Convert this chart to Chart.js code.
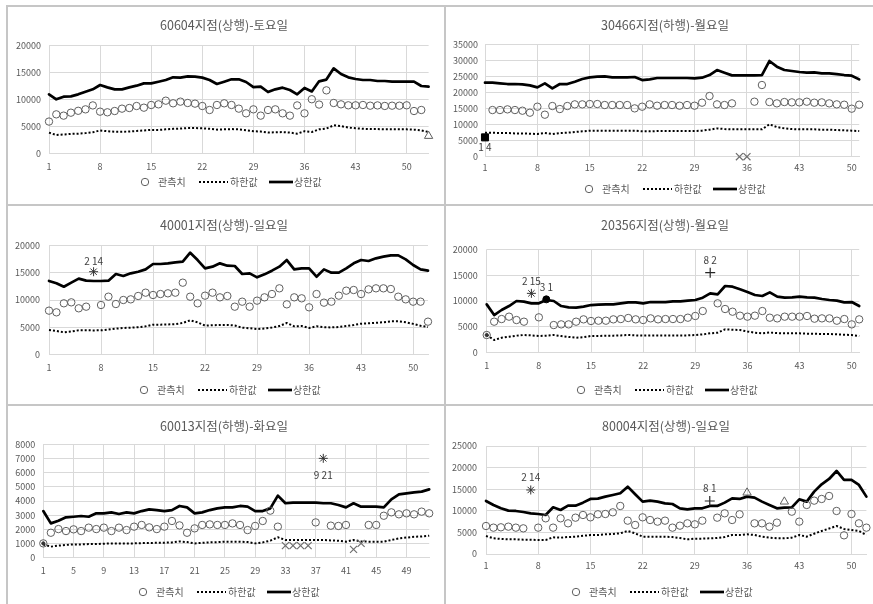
<!DOCTYPE html>
<html>
<head>
<meta charset="utf-8">
<script src="https://cdn.jsdelivr.net/npm/chart.js@4.4.1/dist/chart.umd.min.js"></script>
<style>
  html, body { margin: 0; padding: 0; background: #fff; }
  #board { position: relative; width: 873px; height: 604px; overflow: hidden; background: #fff; }
  .rule { position: absolute; background: #c6c6c6; }
  .cell { position: absolute; }
  .cell canvas { display: block; }
</style>
</head>
<body>
<div id="board"></div>
<script>
// ---- series names ----
const seriesNames = ['관측치', '하한값', '상한값'];

// ---- 60604지점(상행)-토요일 ----
const obs1 = [5900, 7240, 7000, 7550, 7900, 8170, 8900, 7740, 7620, 7860,
  8300, 8420, 8790, 8480, 8980, 9100, 9780, 9290, 9600, 9350,
  9230, 8790, 8050, 8980, 9290, 8980, 8300, 7430, 8170, 7000,
  8050, 8170, 7430, 7000, 8900, 7430, 10050, 9060, 11700, 9350,
  9100, 8920, 8920, 8980, 8850, 8900, 8800, 8850, 8850, 8920,
  7860, 8050, null];
const lower1 = [3840, 3400, 3500, 3600, 3650, 3750, 3900, 4250, 4100, 4000,
  4000, 4050, 4150, 4250, 4350, 4350, 4450, 4550, 4600, 4700,
  4700, 4650, 4550, 4400, 4450, 4500, 4450, 4300, 4100, 4050,
  3850, 3900, 3950, 3850, 3650, 4100, 3950, 4450, 4600, 5200,
  5050, 4800, 4650, 4550, 4500, 4500, 4450, 4450, 4450, 4450,
  4400, 4250, 3950];
const upper1 = [10960, 10030, 10530, 10590, 10960, 11450, 11890, 12690, 12260, 11890,
  11890, 12260, 12570, 13000, 13000, 13310, 13620, 14120, 14060, 14300,
  14240, 14060, 13620, 12880, 13310, 13750, 13750, 13250, 12300, 12380,
  11390, 11890, 12200, 11770, 10960, 12150, 11500, 13380, 13700, 15790,
  14740, 14120, 13810, 13620, 13620, 13440, 13440, 13310, 13310, 13310,
  13310, 12510, 12380];
const flags1 = [
  { kind: 'triangle', week: 53, value: 3220 }
];

// ---- 30466지점(하행)-월요일 ----
const obs2 = [null, 14530, 14530, 14740, 14530, 14320, 13700, 15570, 13080, 15780,
  14840, 15780, 16300, 16300, 16400, 16400, 16090, 16090, 16090, 16090,
  15050, 15570, 16300, 15880, 16090, 16090, 15880, 16090, 15880, 16820,
  18890, 16300, 16090, 16610, null, null, 17130, 22320, 17020, 16610,
  17020, 16920, 16920, 17130, 16820, 16920, 16610, 16300, 16190, 14950,
  16190];
const lower2 = [7470, 7470, 7370, 7370, 7260, 7260, 7160, 7050, 7370, 7050,
  7370, 7470, 7680, 7890, 8100, 8100, 8100, 8100, 8100, 8100,
  8100, 7890, 7890, 8000, 8000, 8000, 8000, 8000, 7990, 8100,
  8400, 8820, 8610, 8510, 8510, 8510, 8510, 8510, 10070, 9240,
  8820, 8610, 8510, 8510, 8510, 8410, 8410, 8300, 8200, 8100,
  8000];
const upper2 = [23040, 23040, 22840, 22630, 22630, 22530, 22210, 21590, 22840, 21280,
  22630, 22630, 23360, 24190, 24700, 24910, 25020, 24700, 24700, 24700,
  24810, 23870, 24080, 24500, 24500, 24500, 24500, 24500, 24390, 24600,
  25430, 26990, 26160, 25330, 25330, 25330, 25330, 25430, 29790, 28030,
  26990, 26680, 26370, 26160, 26260, 25950, 25950, 25740, 25430, 25220,
  24080];
const flags2 = [
  { kind: 'square', week: 1, value: 6020, note: '1 4' },
  { kind: 'cross', week: 35, value: 0 },
  { kind: 'cross', week: 36, value: 0 }
];

// ---- 40001지점(상행)-일요일 ----
const obs3 = [8040, 7730, 9390, 9570, 8470, 8770, null, 9080, 10610, 9260,
  10000, 10120, 10740, 11350, 10920, 11100, 11230, 11350, 13190, 10610,
  9390, 10800, 11350, 10490, 10740, 8770, 9690, 8770, 9880, 10490,
  11100, 12150, 9200, 10490, 10310, 8650, 11100, 9510, 9690, 10800,
  11720, 11840, 11100, 11960, 12150, 12150, 12020, 10610, 10120, 9690,
  9690, 6010];
const lower3 = [4480, 4290, 4050, 4200, 4420, 4420, 4400, 4420, 4550, 4720,
  4850, 4900, 5000, 5150, 5460, 5460, 5500, 5550, 5770, 6260,
  5890, 5280, 5350, 5400, 5400, 5300, 4900, 4800, 4660, 4750,
  4950, 5200, 5770, 5150, 5200, 4850, 5150, 5000, 4950, 5030,
  5200, 5400, 5640, 5700, 5800, 5900, 6070, 6070, 5900, 5600,
  5250, 5030];
const upper3 = [13500, 13070, 12450, 13190, 13930, 13560, 13500, 13500, 13560, 14790,
  14420, 14910, 15210, 15640, 16630, 16630, 16750, 16930, 17060, 18710,
  17360, 15830, 16140, 16750, 16320, 16260, 14790, 14910, 14170, 14720,
  15400, 16140, 17360, 15640, 15830, 15830, 14290, 15640, 15030, 15030,
  15830, 16750, 17360, 17180, 17670, 17980, 18220, 18220, 17480, 16440,
  15640, 15400];
const flags3 = [
  { kind: 'star', week: 7, value: 15210, note: '2 14' }
];

// ---- 20356지점(상행)-월요일 ----
const obs4 = [3420, 6000, 6510, 6970, 6320, 6000, null, 6840, null, 5350,
  5480, 5480, 6000, 6450, 6130, 6190, 6190, 6450, 6510, 6710,
  6450, 6320, 6640, 6450, 6510, 6510, 6510, 6770, 7100, 8060,
  null, 9550, 8450, 7930, 7160, 6970, 7160, 8060, 6770, 6640,
  6970, 6970, 6970, 7100, 6580, 6640, 6640, 6190, 6510, 5480,
  6450];
const lower4 = [3420, 2450, 2900, 3100, 3300, 3420, 3350, 3230, 3300, 3420,
  3230, 3050, 2900, 3000, 3230, 3230, 3300, 3300, 3350, 3420,
  3350, 3300, 3350, 3350, 3350, 3350, 3350, 3350, 3420, 3550,
  3750, 3870, 4520, 4450, 4390, 4100, 3870, 3740, 3900, 3800,
  3740, 3740, 3740, 3680, 3680, 3610, 3610, 3550, 3480, 3420,
  3230];
const upper4 = [9350, 7290, 8260, 9030, 10000, 9870, 9550, 9550, 10190, 10000,
  9030, 8770, 8710, 8900, 9220, 9290, 9350, 9350, 9550, 9740,
  9740, 9550, 9800, 9800, 9800, 9930, 9930, 10060, 10190, 10640,
  11480, 11290, 12900, 12770, 12260, 11740, 11160, 10970, 11670, 10840,
  10640, 10710, 10840, 10710, 10640, 10380, 10190, 10060, 9740, 9800,
  9030];
const flags4 = [
  { kind: 'dot', week: 1, value: 3420 },
  { kind: 'star', week: 7, value: 11480, note: '2 15' },
  { kind: 'filled', week: 9, value: 10320, note: '3 1' },
  { kind: 'plus', week: 31, value: 15480, note: '8 2' }
];

// ---- 60013지점(하행)-화요일 ----
const obs5 = [1010, 1760, 2020, 1880, 2000, 1880, 2120, 2020, 2120, 1880,
  2120, 1950, 2190, 2310, 2140, 2020, 2190, 2590, 2280, 1760,
  2070, 2310, 2350, 2310, 2310, 2420, 2310, 1950, 2240, 2590,
  3320, 2190, null, null, null, null, 2490, null, 2260, 2240,
  2310, null, null, 2310, 2310, 2960, 3200, 3060, 3130, 3060,
  3250, 3130];
const lower5 = [940, 780, 850, 900, 940, 940, 960, 960, 990, 1010,
  1010, 1010, 1010, 1030, 1040, 1050, 1060, 1080, 1150, 1100,
  1010, 1050, 1080, 1100, 1130, 1130, 1130, 1100, 1010, 1080,
  1200, 1440, 1250, 1250, 1250, 1250, 1250, 1250, 1220, 1200,
  1130, 1250, 1150, 1130, 1130, 1130, 1250, 1360, 1420, 1480,
  1500, 1550];
const upper5 = [3290, 2420, 2610, 2850, 2890, 2940, 2890, 3130, 3130, 3200,
  3080, 3200, 3130, 3290, 3410, 3360, 3290, 3360, 3650, 3550,
  3130, 3200, 3360, 3480, 3550, 3550, 3650, 3600, 3290, 3290,
  3480, 4380, 3840, 3880, 3880, 3880, 3880, 3840, 3840, 3720,
  3550, 3840, 3600, 3600, 3600, 3550, 4120, 4470, 4540, 4610,
  4660, 4820];
const flags5 = [
  { kind: 'dot', week: 1, value: 1010 },
  { kind: 'cross', week: 33, value: 850 },
  { kind: 'cross', week: 34, value: 850 },
  { kind: 'cross', week: 35, value: 850 },
  { kind: 'cross', week: 36, value: 850 },
  { kind: 'star', week: 38, value: 7010, note: '9 21' },
  { kind: 'cross', week: 42, value: 590 },
  { kind: 'cross', week: 43, value: 1010 }
];

// ---- 80004지점(상행)-일요일 ----
const obs6 = [6480, 6100, 6180, 6330, 6100, 5940, null, 6100, 8260, 6100,
  8260, 7100, 8410, 9030, 8490, 9190, 9260, 9650, 11120, 7720,
  6720, 8490, 7870, 7490, 7720, 6100, 6560, 7100, 6870, 7720,
  null, 8410, 9420, 7870, 9190, null, 7100, 7100, 6330, 7260,
  null, 9800, 7490, 11350, 12350, 12740, 13430, 9960, 4320, 9260,
  7100, 6100];
const lower6 = [4170, 3630, 3500, 3400, 3400, 3320, 3300, 3240, 3240, 3860,
  3780, 3930, 4010, 4200, 4400, 4400, 4550, 4650, 4790, 5330,
  4790, 4010, 4010, 4010, 4010, 3930, 3700, 3400, 3550, 3550,
  3630, 3700, 3930, 4400, 4400, 4550, 4400, 4010, 3780, 3630,
  3630, 3780, 4400, 4010, 4700, 5330, 5900, 6480, 5800, 5560,
  5330, 4400];
const upper6 = [12270, 11350, 10580, 10040, 9960, 9730, 9420, 9260, 9030, 10810,
  10190, 11190, 11190, 11890, 12740, 12820, 13280, 13660, 14050, 15590,
  13820, 12120, 12350, 12120, 11730, 11580, 10580, 10340, 10580, 10580,
  11120, 11120, 11890, 12890, 12740, 13280, 13050, 12120, 11350, 10580,
  10730, 10810, 12660, 12120, 14440, 16130, 17370, 19220, 17140, 17140,
  15980, 13280];
const flags6 = [
  { kind: 'star', week: 7, value: 14820, note: '2 14' },
  { kind: 'plus', week: 31, value: 12270, note: '8 1' },
  { kind: 'triangle', week: 36, value: 14200 },
  { kind: 'triangle', week: 41, value: 12120 }
];

// ---- y-axis ranges ----
const yMax = [20000, 35000, 20000, 20000, 8000, 25000];
const yStep = [5000, 5000, 5000, 5000, 1000, 5000];
const labelEvery = [7, 7, 7, 7, 4, 7];
const titles = ['60604지점(상행)-토요일', '30466지점(하행)-월요일', '40001지점(상행)-일요일',
  '20356지점(상행)-월요일', '60013지점(하행)-화요일', '80004지점(상행)-일요일'];

// ---- page layout (absolute px) ----
const layout = [
  { cell: [0, 7, 444, 197],   area: { l: 49,    r: 428.6, t: 45.7,  b: 153.3 }, tx: 224, ty: 25,  xl: 167, lx: 145, ly: 182, yp: 8, nd: 0 },
  { cell: [446, 7, 427, 197], area: { l: 485,   r: 859.2, t: 44.3,  b: 156.7 }, tx: 665, ty: 25,  xl: 168, lx: 589, ly: 189, yp: 7, nd: 10 },
  { cell: [0, 206, 444, 198], area: { l: 49,    r: 428,   t: 245.7, b: 354.3 }, tx: 224, ty: 225, xl: 368, lx: 144, ly: 390, yp: 9, nd: -11 },
  { cell: [446, 206, 427, 198], area: { l: 486.7, r: 859.2, t: 249.3, b: 352.7 }, tx: 665, ty: 225, xl: 366, lx: 581, ly: 390, yp: 9, nd: -12 },
  { cell: [0, 406, 444, 198], area: { l: 43.3,  r: 429.2, t: 444.3, b: 557.7 }, tx: 224, ty: 426, xl: 571, lx: 143, ly: 592, yp: 8, nd: 17 },
  { cell: [446, 406, 427, 198], area: { l: 486,   r: 866.8, t: 446,   b: 554 },   tx: 666, ty: 426, xl: 566, lx: 576, ly: 592, yp: 9, nd: -13 }
];

const seriesSets = [
  [obs1, lower1, upper1, flags1],
  [obs2, lower2, upper2, flags2],
  [obs3, lower3, upper3, flags3],
  [obs4, lower4, upper4, flags4],
  [obs5, lower5, upper5, flags5],
  [obs6, lower6, upper6, flags6]
];

const FONT = '"Noto Sans CJK KR", "Noto Sans", sans-serif';
const TEXT = '#595959';
const GRID = '#d9d9d9';
const RING = '#5f5f5f';
const AXIS_H = 24;

const FLAG_STYLE = {
  triangle: { pointStyle: 'triangle', pointRadius: 4.8, pointBorderColor: RING, pointBackgroundColor: 'rgba(255,255,255,0)', pointBorderWidth: 1 },
  square:   { pointStyle: 'rect', pointRadius: 5, pointBorderColor: '#000', pointBackgroundColor: '#000', pointBorderWidth: 1 },
  cross:    { pointStyle: 'crossRot', pointRadius: 5, pointBorderColor: '#6f6f6f', pointBorderWidth: 1.2 },
  star:     { pointStyle: 'star', pointRadius: 4.5, pointBorderColor: '#333', pointBorderWidth: 1 },
  plus:     { pointStyle: 'cross', pointRadius: 5, pointBorderColor: '#262626', pointBorderWidth: 1.2 },
  filled:   { pointStyle: 'circle', pointRadius: 3.5, pointBorderColor: '#000', pointBackgroundColor: '#000', pointBorderWidth: 1 },
  dot:      { pointStyle: 'circle', pointRadius: 1.6, pointBorderColor: '#333', pointBackgroundColor: '#333', pointBorderWidth: 1 }
};

// Title, legend row and flag notes for one panel
const panelText = {
  id: 'panelText',
  afterDatasetsDraw(chart, args, opts) {
    const { ctx } = chart;
    const L = opts.layout;
    const ox = L.cell[0], oy = L.cell[1];
    ctx.save();
    ctx.fillStyle = TEXT;
    ctx.font = '12.5px ' + FONT;
    ctx.textAlign = 'center';
    ctx.textBaseline = 'middle';
    ctx.fillText(opts.title, L.tx - ox, L.ty - oy);

    const lx = L.lx - ox, ly = L.ly - oy;
    ctx.strokeStyle = RING;
    ctx.lineWidth = 1;
    ctx.beginPath();
    ctx.arc(lx, ly, 3.7, 0, Math.PI * 2);
    ctx.stroke();
    ctx.font = '10px ' + FONT;
    ctx.textAlign = 'left';
    ctx.fillText(seriesNames[0], lx + 13, ly);
    ctx.strokeStyle = '#000';
    ctx.lineWidth = 2;
    ctx.setLineDash([2, 2]);
    ctx.beginPath();
    ctx.moveTo(lx + 54, ly);
    ctx.lineTo(lx + 83, ly);
    ctx.stroke();
    ctx.setLineDash([]);
    ctx.fillText(seriesNames[1], lx + 85, ly);
    ctx.lineWidth = 2.7;
    ctx.beginPath();
    ctx.moveTo(lx + 124, ly);
    ctx.lineTo(lx + 148, ly);
    ctx.stroke();
    ctx.fillText(seriesNames[2], lx + 149, ly);

    const xs = chart.scales.x, ys = chart.scales.y;
    ctx.fillStyle = '#404040';
    ctx.font = '10px ' + FONT;
    ctx.textAlign = 'center';
    opts.flags.forEach(f => {
      if (!f.note) return;
      const px = xs.getPixelForValue(f.week - 1);
      const py = ys.getPixelForValue(f.value);
      ctx.fillText(f.note, px, py + opts.layout.nd);
    });
    ctx.restore();
  }
};

function addRule(x, y, w, h) {
  const d = document.createElement('div');
  d.className = 'rule';
  Object.assign(d.style, { left: x + 'px', top: y + 'px', width: w + 'px', height: h + 'px' });
  document.getElementById('board').appendChild(d);
}

function buildPanel(k) {
  const L = layout[k];
  const [obs, lower, upper, flags] = seriesSets[k];
  const [cx, cy, W, H] = L.cell;
  const A = L.area;
  const n = upper.length;
  const weeks = Array.from({ length: n }, (_, i) => String(i + 1));
  const every = labelEvery[k];
  // y-axis box spans almost the whole strip left of the plot, so its labels are never clipped
  const axisW = A.l - cx - 1;

  const wrap = document.createElement('div');
  wrap.className = 'cell';
  Object.assign(wrap.style, { left: cx + 'px', top: cy + 'px', width: W + 'px', height: H + 'px' });
  const cv = document.createElement('canvas');
  cv.width = W; cv.height = H;
  cv.style.width = W + 'px'; cv.style.height = H + 'px';
  wrap.appendChild(cv);
  document.getElementById('board').appendChild(wrap);

  const datasets = [
    {
      label: seriesNames[0], data: obs, showLine: false, clip: false,
      pointStyle: 'circle', pointRadius: 3.7, pointBorderWidth: 1,
      pointBorderColor: RING, pointBackgroundColor: 'rgba(255,255,255,0)'
    },
    {
      label: seriesNames[1], data: lower, clip: false, borderColor: '#000', borderWidth: 2,
      borderDash: [2, 2], pointRadius: 0, tension: 0, borderJoinStyle: 'round'
    },
    {
      label: seriesNames[2], data: upper, clip: false, borderColor: '#000', borderWidth: 2.7,
      pointRadius: 0, tension: 0, borderJoinStyle: 'round', borderCapStyle: 'round'
    }
  ];
  Object.keys(FLAG_STYLE).forEach(kind => {
    const pts = flags.filter(f => f.kind === kind).map(f => ({ x: String(f.week), y: f.value }));
    if (pts.length) {
      datasets.unshift(Object.assign({ label: kind, data: pts, showLine: false, clip: false }, FLAG_STYLE[kind]));
    }
  });

  new Chart(cv, {
    type: 'line',
    data: { labels: weeks, datasets },
    options: {
      responsive: false,
      animation: false,
      events: [],
      layout: {
        padding: {
          left: A.l - cx - axisW,
          right: cx + W - A.r,
          top: A.t - cy,
          bottom: cy + H - A.b - AXIS_H
        }
      },
      plugins: {
        legend: { display: false },
        title: { display: false },
        tooltip: { enabled: false },
        panelText: { layout: L, title: titles[k], flags }
      },
      scales: {
        x: {
          type: 'category',
          offset: false,
          afterFit: s => { s.height = AXIS_H; },
          grid: {
            drawTicks: false,
            offset: false,
            color: c => (c.index % every === 0 ? GRID : 'rgba(0,0,0,0)'),
            lineWidth: 1
          },
          border: { display: true, color: GRID },
          ticks: {
            autoSkip: false, maxRotation: 0, minRotation: 0,
            padding: L.xl - A.b - 5.4,
            color: TEXT, font: { family: FONT, size: 9 },
            callback: (v, i) => (i % every === 0 ? weeks[i] : '')
          }
        },
        y: {
          min: 0, max: yMax[k],
          afterFit: s => { s.width = axisW; },
          grid: { drawTicks: false, color: GRID, lineWidth: 1 },
          border: { display: false },
          ticks: {
            stepSize: yStep[k], padding: L.yp,
            color: TEXT, font: { family: FONT, size: 9 },
            callback: v => String(v)
          }
        }
      }
    },
    plugins: [panelText]
  });
}

function drawAll() {
  addRule(6, 5, 2, 599);
  addRule(6, 5, 867, 2);
  addRule(444, 5, 2, 599);
  addRule(6, 204, 867, 2);
  addRule(6, 404, 867, 2);
  for (let k = 0; k < 6; k++) buildPanel(k);
}

const ready = (document.fonts && document.fonts.load)
  ? Promise.all([
      document.fonts.load('12px "Noto Sans CJK KR"', '지점상행하행관측치'),
      document.fonts.load('9px "Noto Sans CJK KR"', '0123456789')
    ]).catch(() => {})
  : Promise.resolve();
ready.then(drawAll);
</script>
</body>
</html>
